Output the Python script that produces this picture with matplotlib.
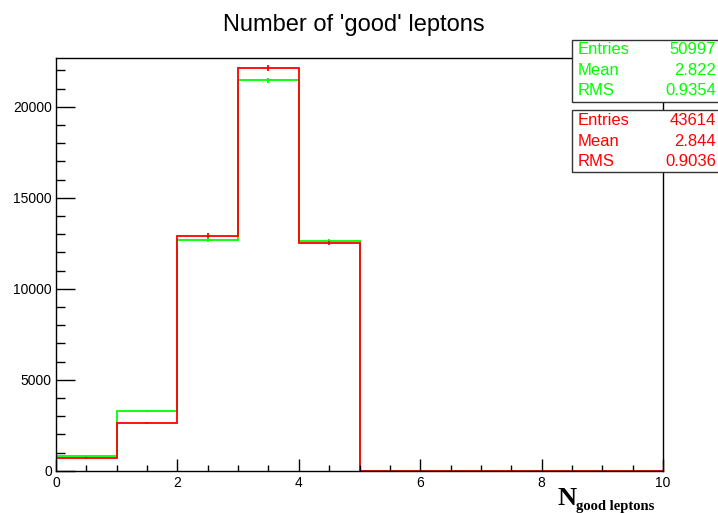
import numpy as np
import matplotlib
matplotlib.use("Agg")
import matplotlib.pyplot as plt
from matplotlib.patches import Rectangle
from matplotlib.ticker import MultipleLocator

plt.rcParams['font.family'] = ['Liberation Sans', 'DejaVu Sans']

# Histogram contents (bins of width 1 from 0 to 10)
edges = np.arange(0, 11)
green_counts = [808, 3264, 12676, 21450, 12620, 0, 0, 0, 0, 0]
red_counts = [698, 2620, 12912, 22110, 12495, 0, 0, 0, 0, 0]

# Statistics boxes
green_stats = [("Entries", "50997"), ("Mean", "2.822"), ("RMS", "0.9354")]
red_stats = [("Entries", "43614"), ("Mean", "2.844"), ("RMS", "0.9036")]
red_scale = 50997 / 43614

title = "Number of 'good' leptons"
GREEN = "#00ff00"
RED = "#ff0000"

W, H = 718, 513
fig = plt.figure(figsize=(W / 100, H / 100), dpi=100)
ax = fig.add_axes([56 / W, 1 - 470.7 / H, (663 - 56) / W, (470.7 - 58.3) / H])

centers = 0.5 * (edges[:-1] + edges[1:])
g = np.array(green_counts, float)
r = np.array(red_counts, float)

ax.stairs(g, edges, color=GREEN, lw=1.3, baseline=0)
ax.errorbar(centers[:5], g[:5], yerr=np.sqrt(g[:5]), fmt='none', ecolor=GREEN, elinewidth=1.3, capsize=0)
ax.stairs(r, edges, color=RED, lw=1.3, baseline=0)
ax.errorbar(centers[:5], r[:5], yerr=np.sqrt(r[:5] * red_scale), fmt='none', ecolor=RED, elinewidth=1.3, capsize=0)

ax.set_xlim(0, 10)
ax.set_ylim(0, 22660)

ax.xaxis.set_major_locator(MultipleLocator(2))
ax.xaxis.set_minor_locator(MultipleLocator(0.5))
ax.yaxis.set_major_locator(MultipleLocator(5000))
ax.yaxis.set_minor_locator(MultipleLocator(1000))
ax.tick_params(axis='both', which='both', direction='in', top=False, right=False, color='black', labelsize=10)
ax.tick_params(axis='y', which='major', length=13.5, width=1.0, pad=3)
ax.tick_params(axis='y', which='minor', length=6.5, width=1.0)
ax.tick_params(axis='x', which='major', length=9, width=1.0, pad=4)
ax.tick_params(axis='x', which='minor', length=4.5, width=1.0)
for s in ax.spines.values():
    s.set_linewidth(1.0)

fig.text(354 / W, 1 - 31 / H, title, ha='center', va='baseline', fontsize=17)

# Axis title with subscript, bold serif
fig.text(558 / W, 1 - 505 / H, "N", fontsize=19, fontweight='bold', family='Liberation Serif', ha='left', va='baseline')
fig.text(576 / W, 1 - 510 / H, "good leptons", fontsize=10.5, fontweight='bold', family='Liberation Serif', ha='left', va='baseline')


def stats_box(top, bottom, rows, color, row_y):
    rect = Rectangle((571.7 / W, 1 - bottom / H), (730 - 571.7) / W, (bottom - top) / H,
                     transform=fig.transFigure, facecolor='white', edgecolor='#333333', lw=1.0,
                     zorder=5, clip_on=False)
    fig.patches.append(rect)
    for (lab, val), y in zip(rows, row_y):
        fig.text(578 / W, 1 - y / H, lab, color=color, fontsize=12, ha='left', va='center', zorder=6)
        fig.text(716 / W, 1 - y / H, val, color=color, fontsize=12, ha='right', va='center', zorder=6)


stats_box(40, 101.7, green_stats, GREEN, [50, 70.7, 91])
stats_box(110, 172, red_stats, RED, [120.5, 141, 161.5])

fig.savefig("out.png", dpi=100)
